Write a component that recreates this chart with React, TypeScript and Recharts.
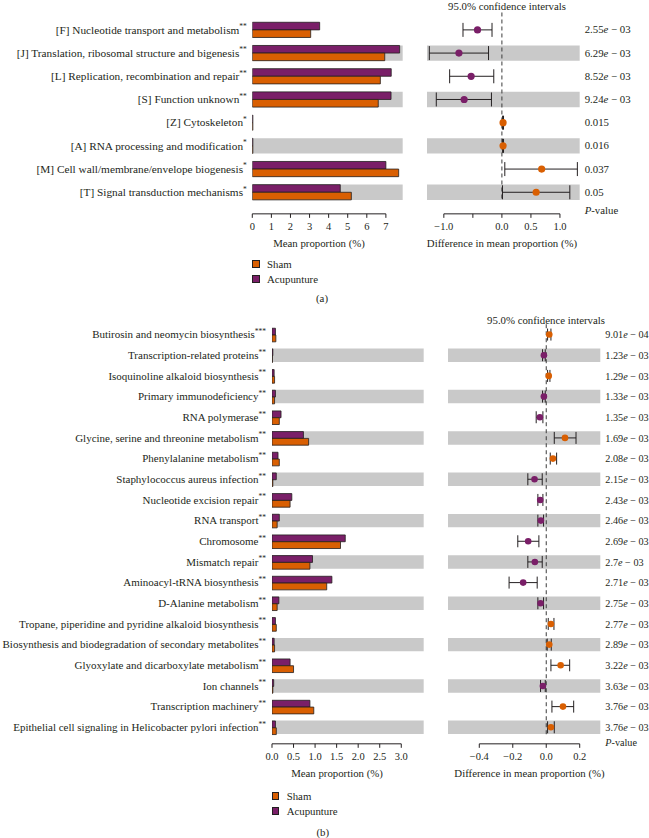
import React from 'react';
import {
  BarChart, Bar, XAxis, YAxis, ScatterChart, Scatter, ErrorBar,
  ReferenceArea, ReferenceLine,
} from 'recharts';

const FONT = '"Liberation Serif", "Times New Roman", serif';
const INK = '#231f20';
const PURPLE = '#7a1f68';
const ORANGE = '#d95f02';
const BAND = '#c9c9c9';

// ---------- Panel (a) data ----------
const catsA = [
  '[F] Nucleotide transport and metabolism',
  '[J] Translation, ribosomal structure and bigenesis',
  '[L] Replication, recombination and repair',
  '[S] Function unknown',
  '[Z] Cytoskeleton',
  '[A] RNA processing and modification',
  '[M] Cell wall/membrane/envelope biogenesis',
  '[T] Signal transduction mechanisms',
];
const starsA = ['**', '**', '**', '**', '*', '*', '*', '*'];
const acupA = [3.53, 7.72, 7.28, 7.27, 0.03, 0.03, 7.0, 4.61];
const shamA = [3.06, 6.94, 6.71, 6.60, 0.03, 0.03, 7.67, 5.19];
const diffA = [-0.42, -0.74, -0.53, -0.65, 0.02, 0.02, 0.685, 0.59];
const ciLowA = [-0.67, -1.25, -0.90, -1.13, 0.012, 0.012, 0.05, 0.01];
const ciHighA = [-0.17, -0.23, -0.14, -0.18, 0.028, 0.028, 1.30, 1.17];
const pA = ['2.55e-03', '6.29e-03', '8.52e-03', '9.24e-03', '0.015', '0.016', '0.037', '0.05'];
const barTicksA = [0, 1, 2, 3, 4, 5, 6, 7];
const barTickLabelsA = ['0', '1', '2', '3', '4', '5', '6', '7'];
const ciTicksA = [-1.0, -0.5, 0.0, 0.5, 1.0];
const ciTickLabelsA = ['\u22121.0', '', '0.0', '0.5', '1.0'];

// ---------- Panel (b) data ----------
const catsB = [
  'Butirosin and neomycin biosynthesis',
  'Transcription-related proteins',
  'Isoquinoline alkaloid biosynthesis',
  'Primary immunodeficiency',
  'RNA polymerase',
  'Glycine, serine and threonine metabolism',
  'Phenylalanine metabolism',
  'Staphylococcus aureus infection',
  'Nucleotide excision repair',
  'RNA transport',
  'Chromosome',
  'Mismatch repair',
  'Aminoacyl-tRNA biosynthesis',
  'D-Alanine metabolism',
  'Tropane, piperidine and pyridine alkaloid biosynthesis',
  'Biosynthesis and biodegradation of secondary metabolites',
  'Glyoxylate and dicarboxylate metabolism',
  'Ion channels',
  'Transcription machinery',
  'Epithelial cell signaling in Helicobacter pylori infection',
];
const starsB = ['***', '**', '**', '**', '**', '**', '**', '**', '**', '**', '**', '**', '**', '**', '**', '**', '**', '**', '**', '**'];
const acupB = [0.08, 0.02, 0.05, 0.08, 0.21, 0.73, 0.14, 0.10, 0.46, 0.17, 1.70, 0.94, 1.39, 0.16, 0.08, 0.05, 0.42, 0.04, 0.88, 0.08];
const shamB = [0.09, 0.01, 0.06, 0.06, 0.17, 0.85, 0.17, 0.02, 0.42, 0.12, 1.59, 0.88, 1.27, 0.12, 0.10, 0.06, 0.50, 0.02, 0.97, 0.10];
const diffB = [0.018, -0.014, 0.015, -0.014, -0.038, 0.112, 0.04, -0.07, -0.036, -0.032, -0.108, -0.068, -0.138, -0.034, 0.028, 0.018, 0.086, -0.02, 0.1, 0.028];
const ciLowB = [0.008, -0.022, 0.008, -0.022, -0.06, 0.048, 0.024, -0.11, -0.05, -0.05, -0.17, -0.11, -0.222, -0.05, 0.012, 0.006, 0.028, -0.034, 0.034, 0.008];
const ciHighB = [0.028, -0.006, 0.022, -0.006, -0.02, 0.178, 0.062, -0.024, -0.02, -0.016, -0.044, -0.024, -0.054, -0.016, 0.046, 0.03, 0.14, -0.006, 0.164, 0.048];
const pB = ['9.01e-04', '1.23e-03', '1.29e-03', '1.33e-03', '1.35e-03', '1.69e-03', '2.08e-03', '2.15e-03', '2.43e-03', '2.46e-03', '2.69e-03', '2.7e-03', '2.71e-03', '2.75e-03', '2.77e-03', '2.89e-03', '3.22e-03', '3.63e-03', '3.76e-03', '3.76e-03'];
const barTicksB = [0, 0.5, 1.0, 1.5, 2.0, 2.5, 3.0];
const barTickLabelsB = ['0.0', '0.5', '1.0', '1.5', '2.0', '2.5', '3.0'];
const ciTicksB = [-0.4, -0.2, 0.0, 0.2];
const ciTickLabelsB = ['\u22120.4', '\u22120.2', '0.0', '0.2'];

type Geom = {
  rowY0: number; step: number; yLo: number; yHi: number;
  barLeft: number; barRight: number; barMax: number;
  ciLeft: number; ciRight: number; ciMin: number; ciMax: number;
  labelGap: number; barSize: number; bandH: number; dotR: number; capW: number;
  dash: [number, number]; pRow: number; labelFont: number; starFont: number;
  tickMargin: number; pFont: number;
};

const geomA: Geom = {
  rowY0: 30.3, step: 23.2, yLo: -0.9, yHi: 7.93,
  barLeft: 252.3, barRight: 402.7, barMax: 7.88,
  ciLeft: 427.3, ciRight: 580, ciMin: -1.29, ciMax: 1.34,
  labelGap: 5.5, barSize: 7.6, bandH: 0.66, dotR: 3.6, capW: 7,
  dash: [-0.75, 7.33], pRow: 7.8, labelFont: 11.3, starFont: 7.5, tickMargin: 5, pFont: 10.8,
};
const geomB: Geom = {
  rowY0: 335, step: 20.67, yLo: -0.85, yHi: 19.8,
  barLeft: 272, barRight: 423.7, barMax: 3.52,
  ciLeft: 447.7, ciRight: 600, ciMin: -0.587, ciMax: 0.323,
  labelGap: 6, barSize: 6.8, bandH: 0.65, dotR: 3.3, capW: 6,
  dash: [-0.5, 19.45], pRow: 19.72, labelFont: 11, starFont: 7.5, tickMargin: 5, pFont: 10.2,
};

const X_AXIS_H = 40;

type PanelProps = {
  g: Geom; cats: string[]; stars: string[]; acup: number[]; sham: number[];
  diff: number[]; lo: number[]; hi: number[]; pv: string[];
  barTicks: number[]; barTickLabels: string[]; ciTicks: number[]; ciTickLabels: string[];
};

function Panel(props: PanelProps) {
  const { g, cats, stars, acup, sham, diff, lo, hi, pv, barTicks, barTickLabels, ciTicks, ciTickLabels } = props;
  const rows = cats.map((c, i) => ({ idx: i, name: c, acup: acup[i], sham: sham[i] }));
  const ciRows = diff.map((d, i) => ({ idx: i, diff: d, err: [d - lo[i], hi[i] - d] }));
  const idxTicks = cats.map((_, i) => i);
  const bandIdx = idxTicks.filter((i) => i % 2 === 1);
  const plotTop = g.rowY0 + g.yLo * g.step;
  const plotH = (g.yHi - g.yLo) * g.step;
  const barW = g.barRight;
  const ciPlotW = g.ciRight - g.ciLeft;
  const rightW = 649 - g.ciRight;

  const CatTick = (p: any) => {
    const i = Math.round(p.payload.value);
    return (
      <text x={g.barLeft - g.labelGap} y={p.y} dy={3.8} textAnchor="end" fontFamily={FONT} fontSize={g.labelFont} fill={INK}>
        {cats[i]}
        <tspan fontSize={g.starFont} dy={-4.5}>{stars[i]}</tspan>
      </text>
    );
  };

  const PTick = (p: any) => {
    const v = p.payload.value;
    const x = ciPlotW + 5;
    if (Math.abs(v - g.pRow) < 0.01) {
      return (
        <text x={x} y={p.y} dy={3.6} textAnchor="start" fontFamily={FONT} fontSize={g.pFont} fill={INK}>
          <tspan fontStyle="italic">P</tspan>-value
        </text>
      );
    }
    const i = Math.round(v);
    const s = pv[i] || '';
    const k = s.indexOf('e');
    if (k < 0) {
      return (
        <text x={x} y={p.y} dy={3.6} textAnchor="start" fontFamily={FONT} fontSize={g.pFont} fill={INK}>{s}</text>
      );
    }
    const mant = s.slice(0, k);
    const ex = s.slice(k + 1).replace('-', '\u2212 ');
    return (
      <text x={x} y={p.y} dy={3.6} textAnchor="start" fontFamily={FONT} fontSize={g.pFont} fill={INK}>
        {mant}<tspan fontStyle="italic">e</tspan>{' ' + ex}
      </text>
    );
  };

  const tickStyle = { fontFamily: FONT, fontSize: 10.5, fill: INK };
  const barLabelMap = (v: number) => {
    const i = barTicks.findIndex((t) => Math.abs(t - v) < 1e-9);
    return i >= 0 ? barTickLabels[i] : '';
  };
  const ciLabelMap = (v: number) => {
    const i = ciTicks.findIndex((t) => Math.abs(t - v) < 1e-9);
    return i >= 0 ? ciTickLabels[i] : '';
  };

  return (
    <>
      <div style={{ position: 'absolute', left: 0, top: plotTop }}>
        <BarChart
          width={barW}
          height={plotH + X_AXIS_H}
          data={rows}
          layout="vertical"
          margin={{ top: 0, right: 0, bottom: 0, left: 0 }}
          barGap={0}
        >
          {bandIdx.map((i) => (
            <ReferenceArea key={'b' + i} y1={i - g.bandH / 2} y2={i + g.bandH / 2} fill={BAND} fillOpacity={1} stroke="none" />
          ))}
          <XAxis
            type="number"
            domain={[0, g.barMax]}
            allowDataOverflow
            ticks={barTicks}
            interval={0}
            axisLine={false}
            tickLine={{ stroke: INK, strokeWidth: 1 }}
            tickSize={4}
            tickMargin={g.tickMargin}
            tick={tickStyle}
            tickFormatter={barLabelMap}
            height={X_AXIS_H}
          />
          <YAxis
            type="number"
            dataKey="idx"
            domain={[g.yLo, g.yHi]}
            allowDataOverflow
            ticks={idxTicks}
            interval={0}
            width={g.barLeft}
            axisLine={false}
            tickLine={false}
            tickSize={0}
            tick={<CatTick />}
          />
          <Bar dataKey="acup" fill={PURPLE} stroke={INK} strokeWidth={0.8} barSize={g.barSize} isAnimationActive={false} />
          <Bar dataKey="sham" fill={ORANGE} stroke={INK} strokeWidth={0.8} barSize={g.barSize} isAnimationActive={false} />
          <ReferenceLine
            segment={[{ x: barTicks[0], y: g.yHi }, { x: barTicks[barTicks.length - 1], y: g.yHi }]}
            stroke={INK}
            strokeWidth={1}
            ifOverflow="visible"
          />
        </BarChart>
      </div>
      <div style={{ position: 'absolute', left: g.ciLeft, top: plotTop }}>
        <ScatterChart
          width={ciPlotW + rightW}
          height={plotH + X_AXIS_H}
          margin={{ top: 0, right: 0, bottom: 0, left: 0 }}
        >
          {bandIdx.map((i) => (
            <ReferenceArea key={'c' + i} y1={i - g.bandH / 2} y2={i + g.bandH / 2} fill={BAND} fillOpacity={1} stroke="none" />
          ))}
          <XAxis
            type="number"
            dataKey="diff"
            domain={[g.ciMin, g.ciMax]}
            allowDataOverflow
            ticks={ciTicks}
            interval={0}
            axisLine={false}
            tickLine={{ stroke: INK, strokeWidth: 1 }}
            tickSize={4}
            tickMargin={g.tickMargin}
            tick={tickStyle}
            tickFormatter={ciLabelMap}
            height={X_AXIS_H}
          />
          <YAxis
            type="number"
            dataKey="idx"
            orientation="right"
            domain={[g.yLo, g.yHi]}
            allowDataOverflow
            reversed
            ticks={[...idxTicks, g.pRow]}
            interval={0}
            width={rightW}
            axisLine={false}
            tickLine={false}
            tickSize={0}
            tick={<PTick />}
          />
          <ReferenceLine
            segment={[{ x: 0, y: g.dash[0] }, { x: 0, y: g.dash[1] }]}
            stroke="#3a3a3a"
            strokeWidth={1}
            strokeDasharray="4 3"
          />
          <ReferenceLine
            segment={[{ x: ciTicks[0], y: g.yHi }, { x: ciTicks[ciTicks.length - 1], y: g.yHi }]}
            stroke={INK}
            strokeWidth={1}
            ifOverflow="visible"
          />
          <Scatter
            data={ciRows}
            isAnimationActive={false}
            shape={(p: any) => (
              <circle cx={p.cx} cy={p.cy} r={g.dotR} fill={p.payload.diff < 0 ? PURPLE : ORANGE} />
            )}
          >
            <ErrorBar dataKey="err" direction="x" width={g.capW} stroke={INK} strokeWidth={1} />
          </Scatter>
        </ScatterChart>
      </div>
    </>
  );
}

function T({ x, y, children, size = 10.8, anchor = 'middle' }: any) {
  return (
    <div
      style={{
        position: 'absolute', left: x, top: y,
        transform: `translate(${anchor === 'middle' ? '-50%' : '0'}, -50%)`,
        fontFamily: FONT, fontSize: size, color: INK, whiteSpace: 'nowrap', lineHeight: 1,
      }}
    >
      {children}
    </div>
  );
}

function Swatch({ x, y, color, w = 8, h = 8 }: any) {
  return (
    <div
      style={{
        position: 'absolute', left: x, top: y, width: w, height: h, boxSizing: 'border-box',
        background: color, border: `1px solid ${INK}`,
      }}
    />
  );
}

export default function App() {
  return (
    <div style={{ position: 'absolute', left: 0, top: 0, width: 649, height: 838, background: '#fff', overflow: 'hidden' }}>
      {/* Panel (a) */}
      <T x={507} y={6}>95.0% confidence intervals</T>
      <Panel
        g={geomA} cats={catsA} stars={starsA} acup={acupA} sham={shamA}
        diff={diffA} lo={ciLowA} hi={ciHighA} pv={pA}
        barTicks={barTicksA} barTickLabels={barTickLabelsA} ciTicks={ciTicksA} ciTickLabels={ciTickLabelsA}
      />
      <T x={319} y={242.7}>Mean proportion (%)</T>
      <T x={502} y={242.7}>Difference in mean proportion (%)</T>
      <Swatch x={252} y={259.5} color={ORANGE} />
      <T x={267} y={263.5} anchor="start">Sham</T>
      <Swatch x={252} y={275} color={PURPLE} />
      <T x={267} y={279} anchor="start">Acupunture</T>
      <T x={322} y={298}>(a)</T>

      {/* Panel (b) */}
      <T x={546} y={320}>95.0% confidence intervals</T>
      <Panel
        g={geomB} cats={catsB} stars={starsB} acup={acupB} sham={shamB}
        diff={diffB} lo={ciLowB} hi={ciHighB} pv={pB}
        barTicks={barTicksB} barTickLabels={barTickLabelsB} ciTicks={ciTicksB} ciTickLabels={ciTickLabelsB}
      />
      <T x={337} y={773.3}>Mean proportion (%)</T>
      <T x={529.5} y={773.3}>Difference in mean proportion (%)</T>
      <Swatch x={272} y={792} color={ORANGE} w={7} />
      <T x={286.7} y={796} anchor="start">Sham</T>
      <Swatch x={272} y={806.7} color={PURPLE} w={7} />
      <T x={286.7} y={810.7} anchor="start">Acupunture</T>
      <T x={322.7} y={832.3}>(b)</T>
    </div>
  );
}
